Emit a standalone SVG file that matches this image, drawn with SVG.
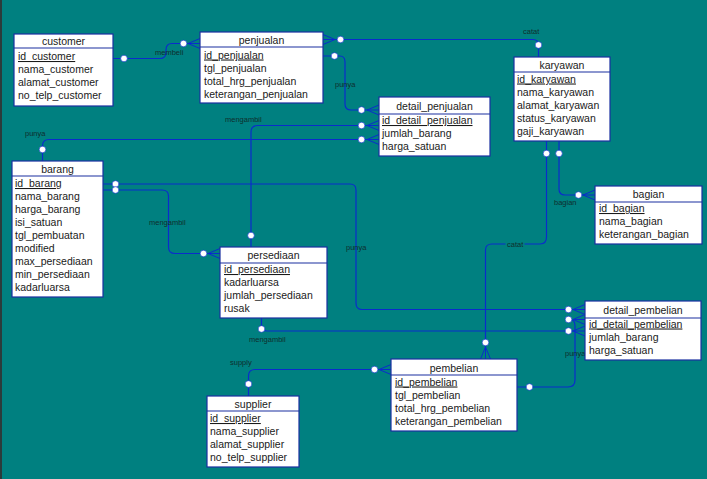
<svg xmlns="http://www.w3.org/2000/svg" width="707" height="479" viewBox="0 0 707 479">
<style>
.bg{fill:#008080}
.box{fill:#ffffff;stroke:#1a2fa0;stroke-width:1.2}
.hd{stroke:#1a2fa0;stroke-width:1.2}
.t{font-family:"Liberation Sans",Arial,sans-serif;font-size:10.5px;fill:#1a1a1a}
.tc{text-anchor:middle}
.pk{text-decoration:underline}
.ln{fill:none;stroke:#0a2ccc;stroke-width:1.2}
.cr{fill:none;stroke:#0a2ccc;stroke-width:1}
.dot{fill:#ffffff;stroke:#0a2ccc;stroke-width:0.6}
.lb{font-family:"Liberation Sans",Arial,sans-serif;font-size:7.5px;fill:#0f2e2e}
</style>
<rect class="bg" x="0" y="0" width="707" height="479"/>
<rect x="0" y="0" width="2" height="479" fill="#2b3b3b"/>

<g id="connectors">
  <!-- membeli -->
  <path class="ln" d="M113,58.5 H160 Q166,58.5 166,52 V50 Q166,43.5 172,43.5 H188"/>
  <path class="cr" d="M188,43.5 L200,38.5 M188,43.5 L200,43.5 M188,43.5 L200,48.5"/>
  <circle class="dot" cx="124" cy="58.5" r="3.3"/>
  <circle class="dot" cx="183.5" cy="43.5" r="3.3"/>
  <text class="lb" x="155" y="54.5">membeli</text>

  <!-- catat penjualan-karyawan -->
  <path class="ln" d="M323,39.5 H533 Q538.5,39.5 538.5,45 V57"/>
  <path class="cr" d="M335,39.5 L323,34.5 M335,39.5 L323,39.5 M335,39.5 L323,44.5"/>
  <circle class="dot" cx="340.5" cy="39.5" r="3.3"/>
  <circle class="dot" cx="538.5" cy="45" r="3.3"/>
  <text class="lb" x="523" y="34">catat</text>

  <!-- punya penjualan-detail_penjualan -->
  <path class="ln" d="M323,56 H340 Q345,56 345,62 V104 Q345,110 351,110 H367"/>
  <path class="cr" d="M367,110 L379,105 M367,110 L379,110 M367,110 L379,115"/>
  <circle class="dot" cx="334.5" cy="56" r="3.3"/>
  <circle class="dot" cx="361.5" cy="110" r="3.3"/>
  <text class="lb" x="335" y="86.5">punya</text>

  <!-- mengambil persediaan-detail_penjualan -->
  <path class="ln" d="M367,125.5 H258 Q251,125.5 251,132 V247"/>
  <path class="cr" d="M367,125.5 L379,120.5 M367,125.5 L379,125.5 M367,125.5 L379,130.5"/>
  <circle class="dot" cx="361.5" cy="125.5" r="3.3"/>
  <circle class="dot" cx="251" cy="235.5" r="3.3"/>
  <text class="lb" x="225" y="121.5">mengambil</text>

  <!-- punya barang-detail_penjualan -->
  <path class="ln" d="M42.5,161 V146 Q42.5,139.5 49,139.5 H367"/>
  <path class="cr" d="M367,139.5 L379,134.5 M367,139.5 L379,139.5 M367,139.5 L379,144.5"/>
  <circle class="dot" cx="42.5" cy="149.5" r="3.3"/>
  <circle class="dot" cx="361.5" cy="139.5" r="3.3"/>
  <text class="lb" x="25" y="135.5">punya</text>

  <!-- punya barang-detail_pembelian -->
  <path class="ln" d="M103,184 H350 Q356,184 356,190 V303 Q356,309.5 362,309.5 H573"/>
  <path class="cr" d="M573,309.5 L585,304.5 M573,309.5 L585,309.5 M573,309.5 L585,314.5"/>
  <circle class="dot" cx="115.5" cy="184" r="3.3"/>
  <circle class="dot" cx="568.5" cy="309.5" r="3.3"/>
  <text class="lb" x="346" y="250">punya</text>

  <!-- mengambil barang-persediaan -->
  <path class="ln" d="M103,190 H162 Q168.5,190 168.5,196 V247 Q168.5,253.5 175,253.5 H208"/>
  <path class="cr" d="M208,253.5 L220,248.5 M208,253.5 L220,253.5 M208,253.5 L220,258.5"/>
  <circle class="dot" cx="115.5" cy="190" r="3.3"/>
  <circle class="dot" cx="203.5" cy="253.5" r="3.3"/>
  <text class="lb" x="149" y="224.5">mengambil</text>

  <!-- mengambil persediaan-detail_pembelian -->
  <path class="ln" d="M261.5,318 V326 Q261.5,331 267,331 H573"/>
  <path class="cr" d="M573,331 L585,326 M573,331 L585,331 M573,331 L585,336"/>
  <circle class="dot" cx="261.5" cy="329" r="3.3"/>
  <circle class="dot" cx="568.5" cy="331" r="3.3"/>
  <text class="lb" x="249" y="341.5">mengambil</text>

  <!-- catat karyawan-pembelian -->
  <path class="ln" d="M546.5,141 V237 Q546.5,244 540,244 H492 Q485.5,244 485.5,250 V347"/>
  <path class="cr" d="M485.5,347 L480.5,359 M485.5,347 L485.5,359 M485.5,347 L490.5,359"/>
  <circle class="dot" cx="546.5" cy="153.5" r="3.3"/>
  <circle class="dot" cx="485.5" cy="342.5" r="3.3"/>
  <rect x="505.5" y="239" width="19" height="9" fill="#008080"/>
  <text class="lb" x="507" y="246.5">catat</text>

  <!-- bagian karyawan-bagian -->
  <path class="ln" d="M559,141 V189 Q559,195 565,195 H583"/>
  <path class="cr" d="M583,195 L595,190 M583,195 L595,195 M583,195 L595,200"/>
  <circle class="dot" cx="559" cy="153.5" r="3.3"/>
  <circle class="dot" cx="578.5" cy="195" r="3.3"/>
  <text class="lb" x="554" y="205">bagian</text>

  <!-- punya pembelian-detail_pembelian -->
  <path class="ln" d="M517,387 H568 Q575,387 575,380 V326 Q575,319.5 570,319.5"/>
  <path class="cr" d="M573,319.5 L585,314.5 M573,319.5 L585,319.5 M573,319.5 L585,324.5"/>
  <circle class="dot" cx="529.5" cy="387" r="3.3"/>
  <circle class="dot" cx="568.5" cy="319.5" r="3.3"/>
  <text class="lb" x="565" y="355.5">punya</text>

  <!-- supply supplier-pembelian -->
  <path class="ln" d="M248.5,396 V376 Q248.5,369.5 255,369.5 H379"/>
  <path class="cr" d="M379,369.5 L391,364.5 M379,369.5 L391,369.5 M379,369.5 L391,374.5"/>
  <circle class="dot" cx="248.5" cy="384" r="3.3"/>
  <circle class="dot" cx="374.5" cy="369.5" r="3.3"/>
  <text class="lb" x="230" y="365">supply</text>
</g>

<g id="customer">
  <rect class="box" x="14" y="34" width="99" height="72"/>
  <line class="hd" x1="14" y1="48" x2="113" y2="48"/>
  <text class="t tc" x="63.5" y="45">customer</text>
  <text class="t pk" x="18" y="60">id_customer</text>
  <text class="t" x="18" y="73">nama_customer</text>
  <text class="t" x="18" y="86">alamat_customer</text>
  <text class="t" x="18" y="99">no_telp_customer</text>
</g>

<g id="penjualan">
  <rect class="box" x="200" y="32" width="123" height="71"/>
  <line class="hd" x1="200" y1="47" x2="323" y2="47"/>
  <text class="t tc" x="261.5" y="44">penjualan</text>
  <text class="t pk" x="204" y="58.5">id_penjualan</text>
  <text class="t" x="204" y="71.5">tgl_penjualan</text>
  <text class="t" x="204" y="84.5">total_hrg_penjualan</text>
  <text class="t" x="204" y="97.5">keterangan_penjualan</text>
</g>

<g id="karyawan">
  <rect class="box" x="514" y="57" width="96" height="84"/>
  <line class="hd" x1="514" y1="72" x2="610" y2="72"/>
  <text class="t tc" x="562" y="68.5">karyawan</text>
  <text class="t pk" x="517" y="82.5">id_karyawan</text>
  <text class="t" x="517" y="95.5">nama_karyawan</text>
  <text class="t" x="517" y="108.5">alamat_karyawan</text>
  <text class="t" x="517" y="121.5">status_karyawan</text>
  <text class="t" x="517" y="134.5">gaji_karyawan</text>
</g>

<g id="detail_penjualan">
  <rect class="box" x="379" y="97" width="111" height="59"/>
  <line class="hd" x1="379" y1="114" x2="490" y2="114"/>
  <text class="t tc" x="434.5" y="110">detail_penjualan</text>
  <text class="t pk" x="382" y="124">id_detail_penjualan</text>
  <text class="t" x="382" y="137">jumlah_barang</text>
  <text class="t" x="382" y="150">harga_satuan</text>
</g>

<g id="barang">
  <rect class="box" x="12" y="161" width="91" height="136"/>
  <line class="hd" x1="12" y1="176" x2="103" y2="176"/>
  <text class="t tc" x="57.5" y="172.5">barang</text>
  <text class="t pk" x="15" y="187">id_barang</text>
  <text class="t" x="15" y="200">nama_barang</text>
  <text class="t" x="15" y="213">harga_barang</text>
  <text class="t" x="15" y="226">isi_satuan</text>
  <text class="t" x="15" y="239">tgl_pembuatan</text>
  <text class="t" x="15" y="252">modified</text>
  <text class="t" x="15" y="265">max_persediaan</text>
  <text class="t" x="15" y="278">min_persediaan</text>
  <text class="t" x="15" y="291">kadarluarsa</text>
</g>

<g id="persediaan">
  <rect class="box" x="220" y="247" width="107" height="71"/>
  <line class="hd" x1="220" y1="263" x2="327" y2="263"/>
  <text class="t tc" x="273.5" y="259">persediaan</text>
  <text class="t pk" x="224" y="273">id_persediaan</text>
  <text class="t" x="224" y="286">kadarluarsa</text>
  <text class="t" x="224" y="299">jumlah_persediaan</text>
  <text class="t" x="224" y="312">rusak</text>
</g>

<g id="bagian">
  <rect class="box" x="595" y="186" width="107" height="58"/>
  <line class="hd" x1="595" y1="202" x2="702" y2="202"/>
  <text class="t tc" x="648.5" y="198">bagian</text>
  <text class="t pk" x="599" y="212">id_bagian</text>
  <text class="t" x="599" y="225">nama_bagian</text>
  <text class="t" x="599" y="238">keterangan_bagian</text>
</g>

<g id="detail_pembelian">
  <rect class="box" x="585" y="301" width="116" height="59"/>
  <line class="hd" x1="585" y1="318" x2="701" y2="318"/>
  <text class="t tc" x="643" y="314">detail_pembelian</text>
  <text class="t pk" x="589" y="327.5">id_detail_pembelian</text>
  <text class="t" x="589" y="340.5">jumlah_barang</text>
  <text class="t" x="589" y="353.5">harga_satuan</text>
</g>

<g id="pembelian">
  <rect class="box" x="391" y="359" width="126" height="72"/>
  <line class="hd" x1="391" y1="375" x2="517" y2="375"/>
  <text class="t tc" x="454" y="371.5">pembelian</text>
  <text class="t pk" x="395" y="385.5">id_pembelian</text>
  <text class="t" x="395" y="398.5">tgl_pembelian</text>
  <text class="t" x="395" y="411.5">total_hrg_pembelian</text>
  <text class="t" x="395" y="424.5">keterangan_pembelian</text>
</g>

<g id="supplier">
  <rect class="box" x="207" y="396" width="92" height="71"/>
  <line class="hd" x1="207" y1="411" x2="299" y2="411"/>
  <text class="t tc" x="253" y="407.5">supplier</text>
  <text class="t pk" x="210" y="422">id_supplier</text>
  <text class="t" x="210" y="435">nama_supplier</text>
  <text class="t" x="210" y="448">alamat_supplier</text>
  <text class="t" x="210" y="461">no_telp_supplier</text>
</g>
</svg>
